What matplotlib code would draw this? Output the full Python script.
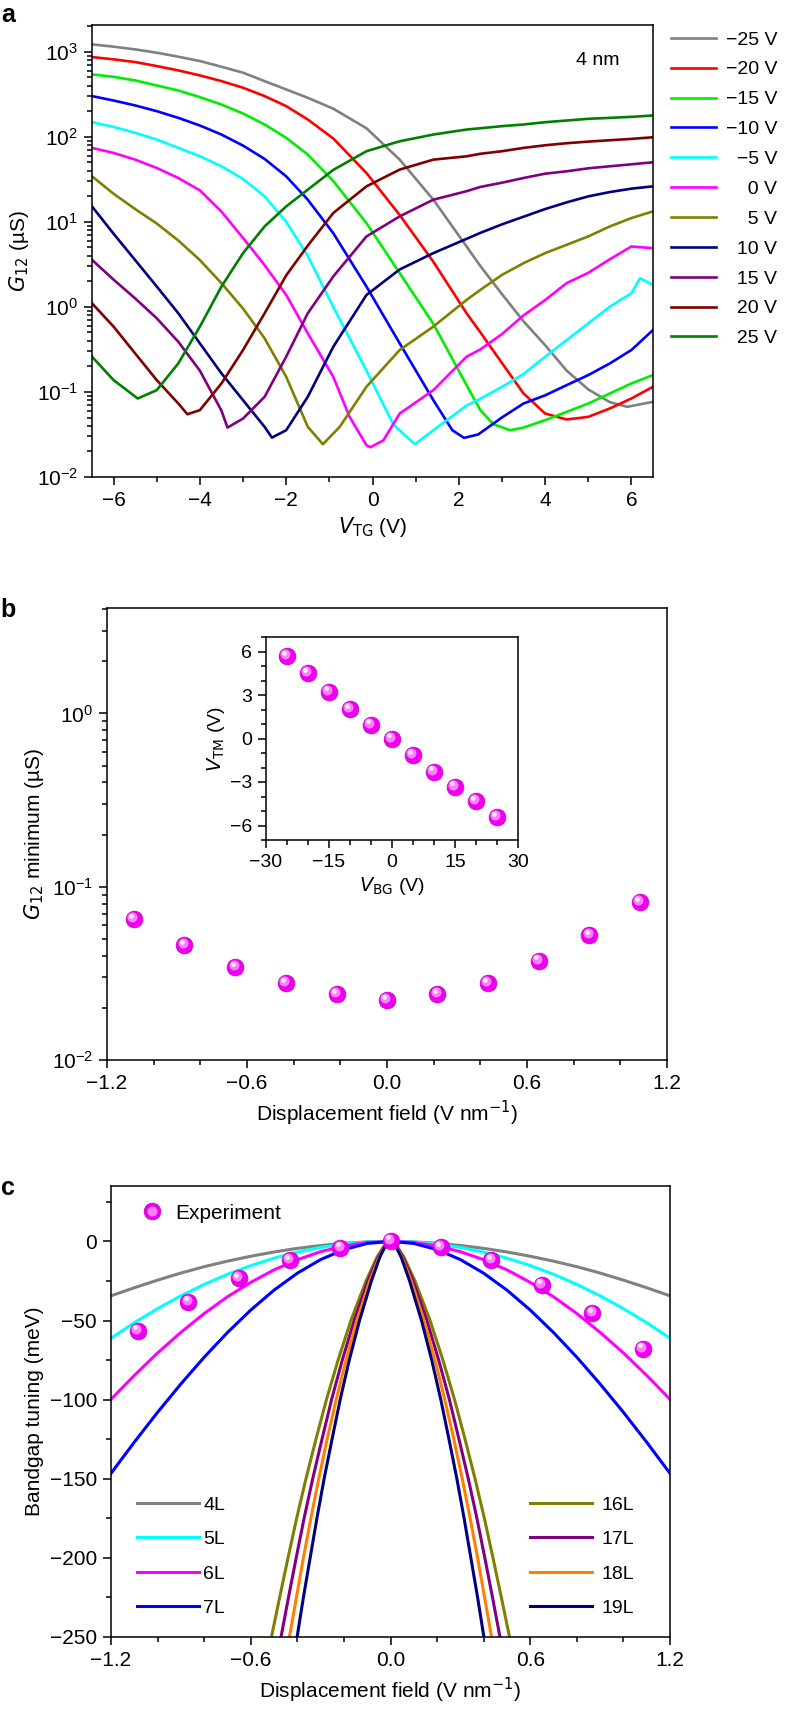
import numpy as np
import matplotlib
matplotlib.use("Agg")
import matplotlib.pyplot as plt
import matplotlib.transforms as mtransforms
from matplotlib.ticker import MultipleLocator, LogLocator, NullFormatter, FuncFormatter
from matplotlib.legend_handler import HandlerTuple

plt.rcParams["font.family"] = ["Liberation Sans Narrow", "Liberation Sans", "DejaVu Sans"]
plt.rcParams["mathtext.fontset"] = "custom"
plt.rcParams["mathtext.rm"] = "Liberation Sans Narrow"
plt.rcParams["mathtext.it"] = "Liberation Sans Narrow:italic"
plt.rcParams["mathtext.bf"] = "Liberation Sans Narrow:bold"
plt.rcParams["axes.linewidth"] = 1.1

# ---------------- panel a: G12 vs V_TG, one trace per back-gate voltage
# values are log10(G12 / uS)
vtg_m25 = [-6.5, -6, -5.5, -5, -4.5, -4, -3.5, -3, -2.5, -2, -1.5, -0.91, -0.14, 0.63, 1.41, 2.18,
           2.5, 3, 3.5, 4, 4.5, 5, 5.5, 5.9, 6.5]
lg_m25 = [3.086, 3.059, 3.027, 2.988, 2.941, 2.89, 2.823, 2.753, 2.654, 2.556, 2.458, 2.33, 2.1, 1.731, 1.26, 0.71,
          0.48, 0.15, -0.17, -0.45, -0.75, -0.97, -1.12, -1.175, -1.116]
vtg_m20 = [-6.5, -6, -5.5, -5, -4.5, -4, -3.5, -3, -2.5, -2, -1.5, -0.91, -0.14, 0.63, 1.41, 2.18,
           2.5, 3, 3.5, 4, 4.5, 5, 5.5, 6, 6.5]
lg_m20 = [2.937, 2.91, 2.878, 2.831, 2.78, 2.721, 2.654, 2.576, 2.478, 2.36, 2.203, 1.98, 1.574, 1.08, 0.53, -0.075,
          -0.3, -0.66, -1.018, -1.254, -1.324, -1.293, -1.194, -1.077, -0.939]
vtg_m15 = [-6.5, -6, -5.5, -5, -4.5, -4, -3.5, -3, -2.5, -2, -1.5, -0.91, -0.14, 0.63, 1.41, 2.18,
           2.5, 2.8, 3.19, 3.5, 4, 4.5, 5, 5.5, 6, 6.5]
lg_m15 = [2.733, 2.705, 2.662, 2.603, 2.544, 2.466, 2.379, 2.273, 2.144, 1.987, 1.79, 1.48, 0.985, 0.396, -0.2, -0.92,
          -1.214, -1.38, -1.45, -1.419, -1.332, -1.234, -1.136, -1.018, -0.9, -0.802]
vtg_m10 = [-6.5, -6, -5.5, -5, -4.5, -4, -3.5, -3, -2.5, -2, -1.5, -0.91, -0.14, 0.63, 1.41, 1.85, 2.12,
           2.45, 3, 3.5, 4, 4.5, 5, 5.5, 6, 6.5]
lg_m10 = [2.478, 2.426, 2.368, 2.301, 2.222, 2.132, 2.026, 1.896, 1.739, 1.535, 1.26, 0.867, 0.239, -0.429, -1.097, -1.45, -1.54,
          -1.5, -1.3, -1.136, -1.04, -0.92, -0.802, -0.665, -0.507, -0.272]
vtg_m5 = [-6.5, -6, -5.5, -5, -4.5, -4, -3.5, -3, -2.5, -2, -1.5, -0.91, -0.14, 0.48, 0.98, 1.41, 2.18,
          2.5, 3, 3.5, 4, 4.5, 5, 5.5, 6, 6.2, 6.5]
lg_m5 = [2.171, 2.116, 2.046, 1.967, 1.869, 1.771, 1.653, 1.503, 1.3, 1.0, 0.6, 0.0, -0.75, -1.38, -1.615, -1.45, -1.16,
         -1.08, -0.94, -0.79, -0.586, -0.39, -0.193, 0.003, 0.16, 0.337, 0.258]
vtg_0 = [-6.5, -6, -5.5, -5, -4.5, -4, -3.5, -3, -2.5, -2, -1.5, -0.91, -0.53, -0.14, -0.05, 0.25, 0.63, 1.41, 2.18,
         2.5, 3, 3.5, 4, 4.5, 5, 5.5, 6, 6.5]
lg_0 = [1.869, 1.81, 1.731, 1.633, 1.515, 1.37, 1.12, 0.81, 0.49, 0.14, -0.311, -0.822, -1.293, -1.627, -1.65, -1.57, -1.254, -0.979, -0.586,
        -0.5, -0.32, -0.1, 0.08, 0.28, 0.4, 0.56, 0.71, 0.69]
vtg_p5 = [-6.5, -6, -5.5, -5, -4.5, -4, -3.5, -3, -2.5, -2, -1.5, -1.15, -0.76, -0.14, 0.63, 1.41, 2.18,
          2.5, 3, 3.5, 4, 4.5, 5, 5.5, 6, 6.5]
lg_p5 = [1.535, 1.33, 1.15, 0.98, 0.78, 0.55, 0.278, -0.02, -0.37, -0.822, -1.41, -1.615, -1.411, -0.939, -0.507, -0.232, 0.082,
         0.2, 0.376, 0.514, 0.632, 0.73, 0.828, 0.946, 1.044, 1.123]
vtg_p10 = [-6.5, -6, -5.5, -5, -4.5, -4, -3.5, -3, -2.5, -2.33, -2, -1.5, -0.91, -0.14, 0.63, 1.41, 2.18,
           2.5, 3, 3.5, 4, 4.5, 5, 5.5, 6, 6.5]
lg_p10 = [1.181, 0.86, 0.55, 0.24, -0.075, -0.429, -0.782, -1.097, -1.411, -1.537, -1.45, -1.057, -0.47, 0.14, 0.44, 0.632, 0.8,
          0.87, 0.97, 1.06, 1.15, 1.229, 1.299, 1.35, 1.39, 1.417]
vtg_p15 = [-6.5, -6, -5.5, -5, -4.5, -4, -3.5, -3.36, -3, -2.5, -2, -1.5, -0.91, -0.14, 0.63, 1.41, 2.18,
           2.5, 3, 3.5, 4, 4.5, 5, 5.5, 6, 6.5]
lg_p15 = [0.553, 0.32, 0.1, -0.134, -0.41, -0.75, -1.22, -1.419, -1.313, -1.057, -0.586, -0.075, 0.357, 0.828, 1.064, 1.26, 1.36,
          1.41, 1.46, 1.515, 1.566, 1.594, 1.629, 1.653, 1.676, 1.70]
vtg_p20 = [-6.5, -6, -5.5, -5, -4.5, -4.29, -4, -3.5, -3, -2.5, -2, -1.5, -0.91, -0.14, 0.63, 1.41, 2.18,
           2.5, 3, 3.5, 4, 4.5, 5, 5.5, 6, 6.5]
lg_p20 = [0.042, -0.232, -0.547, -0.861, -1.136, -1.262, -1.214, -0.9, -0.507, -0.075, 0.37, 0.72, 1.103, 1.417, 1.614, 1.731, 1.77,
          1.8, 1.83, 1.869, 1.9, 1.924, 1.943, 1.959, 1.975, 1.994]
vtg_p25 = [-6.5, -6, -5.44, -5, -4.5, -4, -3.5, -3, -2.5, -2, -1.5, -0.91, -0.14, 0.63, 1.41, 2.18,
           2.5, 3, 3.5, 4, 4.5, 5, 5.5, 6, 6.5]
lg_p25 = [-0.586, -0.861, -1.077, -0.979, -0.664, -0.232, 0.239, 0.632, 0.946, 1.181, 1.378, 1.61, 1.83, 1.947, 2.026, 2.085,
          2.1, 2.125, 2.144, 2.171, 2.191, 2.211, 2.222, 2.234, 2.25]

bg_x = [vtg_m25, vtg_m20, vtg_m15, vtg_m10, vtg_m5, vtg_0, vtg_p5, vtg_p10, vtg_p15, vtg_p20, vtg_p25]
bg_y = [lg_m25, lg_m20, lg_m15, lg_m10, lg_m5, lg_0, lg_p5, lg_p10, lg_p15, lg_p20, lg_p25]
fs = "\u2007"
bg_labels = ["\u221225 V", "\u221220 V", "\u221215 V", "\u221210 V", fs + "\u22125 V", fs * 2 + "0 V",
             fs * 2 + "5 V", fs + "10 V", fs + "15 V", fs + "20 V", fs + "25 V"]
bg_colors = ["#808080", "#ff0000", "#00ee00", "#0000ff", "#00ffff", "#ff00ff",
             "#808000", "#000080", "#800080", "#800000", "#008000"]

# ---------------- panel b: minimum conductance vs displacement field, inset V_TM vs V_BG
d_field = [-1.085, -0.868, -0.65, -0.433, -0.216, 0.0, 0.216, 0.433, 0.65, 0.867, 1.084]
g_min = [0.065, 0.046, 0.0344, 0.0277, 0.024, 0.0221, 0.024, 0.0277, 0.0374, 0.0527, 0.0815]
v_bg = [-25, -20, -15, -10, -5, 0, 5, 10, 15, 20, 25]
v_tm = [5.7, 4.52, 3.24, 2.01, 0.95, 0.0, -1.13, -2.29, -3.33, -4.31, -5.44]

# ---------------- panel c: bandgap tuning, experiment + calculations
exp_tuning = [-56.5, -38.0, -23.3, -12.0, -4.0, 0.5, -3.6, -11.8, -27.4, -45.3, -67.7]
d_grid = [-1.2, -1.1, -1.0, -0.9, -0.8, -0.7, -0.6, -0.5, -0.4, -0.3, -0.2, -0.1, 0.0,
          0.1, 0.2, 0.3, 0.4, 0.5, 0.6, 0.7, 0.8, 0.9, 1.0, 1.1, 1.2]
tune_4l = [-34.4, -29.3, -24.5, -20.0, -16.0, -12.5, -9.4, -6.7, -4.4, -2.6, -1.2, -0.3, 0.0,
           -0.3, -1.2, -2.6, -4.4, -6.7, -9.4, -12.5, -16.0, -20.0, -24.5, -29.3, -34.4]
tune_5l = [-61.2, -51.4, -42.5, -34.4, -27.2, -20.8, -15.3, -10.6, -6.8, -3.8, -1.7, -0.4, 0.0,
           -0.4, -1.7, -3.8, -6.8, -10.6, -15.3, -20.8, -27.2, -34.4, -42.5, -51.4, -61.2]
tune_6l = [-99.8, -84.7, -70.5, -57.5, -45.6, -35.0, -25.9, -18.0, -11.6, -6.5, -2.9, -0.7, 0.0,
           -0.7, -2.9, -6.5, -11.6, -18.0, -25.9, -35.0, -45.6, -57.5, -70.5, -84.7, -99.8]
tune_7l = [-146.6, -126.9, -108.0, -90.1, -73.2, -57.6, -43.4, -30.8, -20.1, -11.5, -5.2, -1.3, 0.0,
           -1.3, -5.2, -11.5, -20.1, -30.8, -43.4, -57.6, -73.2, -90.1, -108.0, -126.9, -146.6]
tune_ctr = [-265, -250, -225, -200, -175, -150, -125, -100, -75, -50, -25, -10, -3.5, 0,
            -3.5, -10, -25, -50, -75, -100, -125, -150, -175, -200, -225, -250, -265]
d_16l = [-0.531, -0.511, -0.476, -0.440, -0.403, -0.363, -0.320, -0.275, -0.225, -0.170, -0.105, -0.058, -0.03, 0.0,
         0.03, 0.058, 0.105, 0.170, 0.225, 0.275, 0.320, 0.363, 0.403, 0.440, 0.476, 0.511, 0.531]
d_17l = [-0.489, -0.470, -0.438, -0.405, -0.371, -0.334, -0.294, -0.253, -0.207, -0.156, -0.097, -0.053, -0.028, 0.0,
         0.028, 0.053, 0.097, 0.156, 0.207, 0.253, 0.294, 0.334, 0.371, 0.405, 0.438, 0.470, 0.489]
d_18l = [-0.451, -0.434, -0.404, -0.374, -0.342, -0.308, -0.272, -0.233, -0.191, -0.144, -0.089, -0.049, -0.026, 0.0,
         0.026, 0.049, 0.089, 0.144, 0.191, 0.233, 0.272, 0.308, 0.342, 0.374, 0.404, 0.434, 0.451]
d_19l = [-0.417, -0.401, -0.374, -0.345, -0.316, -0.285, -0.251, -0.216, -0.177, -0.133, -0.082, -0.046, -0.024, 0.0,
         0.024, 0.046, 0.082, 0.133, 0.177, 0.216, 0.251, 0.285, 0.316, 0.345, 0.374, 0.401, 0.417]
thin_labels = ["4L", "5L", "6L", "7L"]
thin_colors = ["#808080", "#00ffff", "#ff00ff", "#0000ff"]
thick_labels = ["16L", "17L", "18L", "19L"]
thick_colors = ["#808000", "#800080", "#ff8000", "#000080"]

W, H = 788, 1718
fig = plt.figure(figsize=(W / 100, H / 100), dpi=100)


def box(l, t, r, b):
    return [l / W, 1 - b / H, (r - l) / W, (b - t) / H]


def style(ax, fsz=15):
    ax.tick_params(which="both", direction="out", top=False, right=False, labelsize=fsz, width=1.1)
    ax.tick_params(which="major", length=6, pad=4)
    ax.tick_params(which="minor", length=3.5)


def minus_fmt(fmt):
    return FuncFormatter(lambda v, p: (fmt % v).replace("-", "\u2212"))


def spheres(ax, x, y, ms, z=4):
    base = ax.plot(x, y, "o", ms=ms, mfc="#ee00ee", mec="#cc00cc", mew=0.6, ls="none", zorder=z)[0]
    off1 = mtransforms.ScaledTranslation(-ms * 0.10 / 72, ms * 0.12 / 72, fig.dpi_scale_trans)
    glow = ax.plot(x, y, "o", ms=ms * 0.6, mfc="#ff80ff", mec="none", ls="none",
                   transform=ax.transData + off1, zorder=z + 0.1)[0]
    off2 = mtransforms.ScaledTranslation(-ms * 0.16 / 72, ms * 0.20 / 72, fig.dpi_scale_trans)
    ax.plot(x, y, "o", ms=ms * 0.28, mfc="white", mec="none", ls="none", alpha=0.9,
            transform=ax.transData + off2, zorder=z + 0.2)
    return base, glow


def log_axis(ax):
    ax.set_yscale("log")
    ax.yaxis.set_major_locator(LogLocator(base=10, numticks=12))
    ax.yaxis.set_minor_locator(LogLocator(base=10, subs=np.arange(2, 10), numticks=12))
    ax.yaxis.set_minor_formatter(NullFormatter())


# ---- a
ax_a = fig.add_axes(box(92, 25, 653, 477))
lines_a = []
for xs, ys, c, lab in zip(bg_x, bg_y, bg_colors, bg_labels):
    ln, = ax_a.plot(xs, 10 ** np.array(ys), color=c, lw=1.9, label=lab, solid_joinstyle="round")
    lines_a.append(ln)
log_axis(ax_a)
ax_a.set_xlim(-6.5, 6.5)
ax_a.set_ylim(1e-2, 2.06e3)
ax_a.xaxis.set_major_locator(MultipleLocator(2))
ax_a.xaxis.set_minor_locator(MultipleLocator(1))
style(ax_a)
ax_a.set_xlabel(r"$V_{\mathrm{TG}}$ (V)", fontsize=15, labelpad=4)
ax_a.set_ylabel(r"$G_{12}$ (µS)", fontsize=15, labelpad=4)
ax_a.text(0.902, 0.922, "4 nm", transform=ax_a.transAxes, ha="center", va="center", fontsize=14)
fig.legend(lines_a, bg_labels, loc="upper left", bbox_to_anchor=(671 / W, 1 - 31 / H),
           frameon=False, fontsize=14, handlelength=2.3, handletextpad=0.55,
           labelspacing=0.63, borderpad=0, borderaxespad=0)

# ---- b
ax_b = fig.add_axes(box(107, 608, 667, 1060))
spheres(ax_b, d_field, g_min, 12)
log_axis(ax_b)
ax_b.set_xlim(-1.2, 1.2)
ax_b.set_ylim(1e-2, 4.06)
ax_b.xaxis.set_major_locator(MultipleLocator(0.6))
ax_b.xaxis.set_minor_locator(MultipleLocator(0.2))
ax_b.xaxis.set_major_formatter(minus_fmt("%.1f"))
style(ax_b)
ax_b.set_xlabel(r"Displacement field (V nm$^{-1}$)", fontsize=15, labelpad=4)
ax_b.set_ylabel(r"$G_{12}$ minimum (µS)", fontsize=15, labelpad=4)

ax_in = fig.add_axes(box(266, 637, 518, 840))
spheres(ax_in, v_bg, v_tm, 12)
ax_in.set_xlim(-30, 30)
ax_in.set_ylim(-7, 7)
ax_in.xaxis.set_major_locator(MultipleLocator(15))
ax_in.xaxis.set_minor_locator(MultipleLocator(5))
ax_in.yaxis.set_major_locator(MultipleLocator(3))
ax_in.yaxis.set_minor_locator(MultipleLocator(1))
style(ax_in, 14)
ax_in.set_xlabel(r"$V_{\mathrm{BG}}$ (V)", fontsize=14, labelpad=3)
ax_in.set_ylabel(r"$V_{\mathrm{TM}}$ (V)", fontsize=14, labelpad=2)

# ---- c
ax_c = fig.add_axes(box(111, 1186, 670, 1637))
thin = []
for ys, c in zip([tune_4l, tune_5l, tune_6l, tune_7l], thin_colors):
    ln, = ax_c.plot(d_grid, ys, color=c, lw=2.2)
    thin.append(ln)
thick = []
for xs, c in zip([d_16l, d_17l, d_18l, d_19l], thick_colors):
    ln, = ax_c.plot(xs, tune_ctr, color=c, lw=2.2)
    thick.append(ln)
exp_h = spheres(ax_c, d_field, exp_tuning, 12, z=5)
ax_c.set_xlim(-1.2, 1.2)
ax_c.set_ylim(-250, 35)
ax_c.xaxis.set_major_locator(MultipleLocator(0.6))
ax_c.xaxis.set_minor_locator(MultipleLocator(0.2))
ax_c.xaxis.set_major_formatter(minus_fmt("%.1f"))
ax_c.yaxis.set_major_locator(MultipleLocator(50))
ax_c.yaxis.set_minor_locator(MultipleLocator(25))
style(ax_c)
ax_c.set_xlabel(r"Displacement field (V nm$^{-1}$)", fontsize=15, labelpad=4)
ax_c.set_ylabel("Bandgap tuning (meV)", fontsize=15, labelpad=4)

leg_e = ax_c.legend([exp_h], ["Experiment"], handler_map={tuple: HandlerTuple(ndivide=1)},
                    loc="center left", bbox_to_anchor=((142 - 111) / 559, 0.94), frameon=False,
                    fontsize=15, handlelength=1.0, handletextpad=0.6, borderpad=0, borderaxespad=0)
ax_c.add_artist(leg_e)
leg_l = ax_c.legend(thin, thin_labels, loc="upper left", bbox_to_anchor=((137 - 111) / 559, 1 - (1496 - 1186) / 451),
                    frameon=False, fontsize=14, handlelength=3.2, handletextpad=0.2,
                    labelspacing=0.87, borderpad=0, borderaxespad=0)
ax_c.add_artist(leg_l)
ax_c.legend(thick, thick_labels, loc="upper left", bbox_to_anchor=((530 - 111) / 559, 1 - (1496 - 1186) / 451),
            frameon=False, fontsize=14, handlelength=3.2, handletextpad=0.5,
            labelspacing=0.87, borderpad=0, borderaxespad=0)

# panel letters
for lab, ytop in [("a", 22), ("b", 617), ("c", 1195)]:
    fig.text(0.001, 1 - ytop / H, lab, fontsize=18, fontweight="bold", family="Liberation Sans",
             va="baseline", ha="left")

fig.savefig("out.png", dpi=100)
